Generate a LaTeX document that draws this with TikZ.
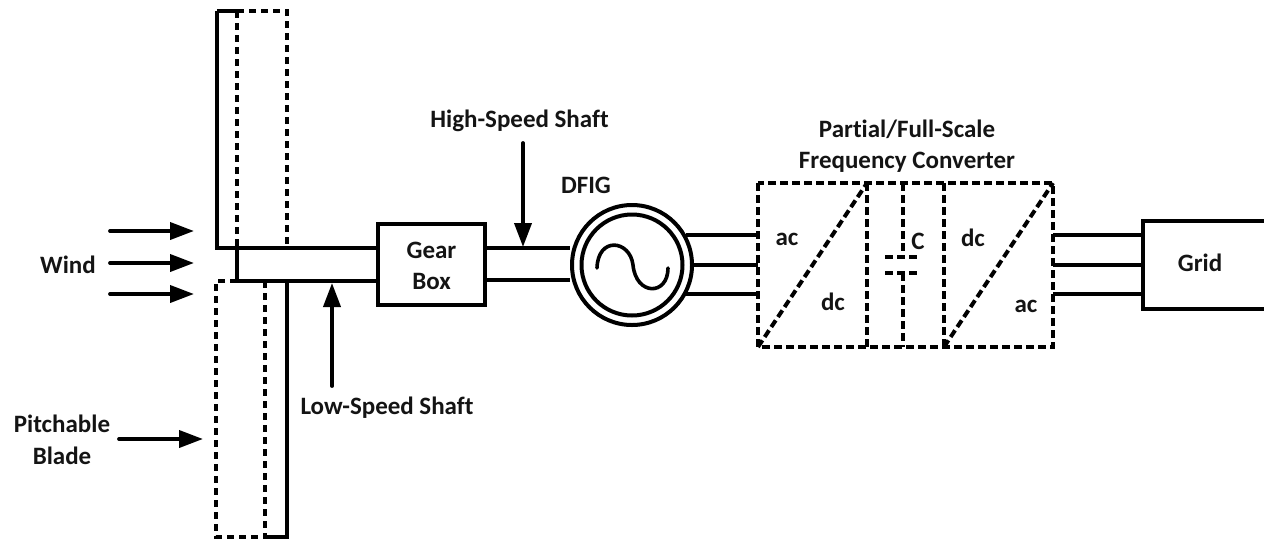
\documentclass[tikz,border=0pt]{standalone}
\usepackage{fontspec}
\setmainfont[Ligatures=NoCommon]{Carlito}
\usetikzlibrary{arrows.meta}
\tikzset{
  solidln/.style={line width=4pt,line cap=butt,line join=miter},
  dashln/.style={line width=4pt,dash pattern=on 8pt off 4pt},
  dotln/.style={line width=4pt,dash pattern=on 7pt off 5pt},
  arrowln/.style={line width=3.8pt,line cap=round,-{Triangle[length=24pt,width=17pt]}},
  lbl/.style={font=\fontsize{25}{31.5}\selectfont\bfseries,inner sep=0pt,align=center,text=black!92},
}
\begin{document}
\begin{tikzpicture}[x=1pt,y=-1pt]
\useasboundingbox (0,0) rectangle (1264,542);
% blade corners
\coordinate (ta) at (217,11);\coordinate (tb) at (237,11);\coordinate (tc) at (287,11);
\coordinate (td) at (217,248);\coordinate (te) at (237,248);\coordinate (tf) at (287,248);
\coordinate (ba) at (237,281);\coordinate (bb) at (216,281);\coordinate (bc) at (265,281);\coordinate (bd) at (287,281);
\coordinate (be) at (216,537);\coordinate (bf) at (265,537);\coordinate (bg) at (287,537);
% boxes
\node[draw,line width=4pt,minimum width=107pt,minimum height=81pt,inner sep=0pt] (gear) at (431.5,264.5) {};
\node[lbl] (gearlbl) at (431.5,266) {Gear\\Box};
\node[draw,circle,line width=4pt,minimum size=120pt,inner sep=0pt] (outer) at (632,265) {};
\node[draw,circle,line width=4pt,minimum size=101pt,inner sep=0pt] (inner) at (632,265) {};
\coordinate (gridTL) at (1264,221);\coordinate (gridL1) at (1143,221);\coordinate (gridL2) at (1143,309);\coordinate (gridBR) at (1264,309);
\draw[solidln] (gridTL) -- (gridL1) -- (gridL2) -- (gridBR);
\node[lbl] (gridt) at (1200,263) {Grid};
% shaft
\draw[solidln] (ta) -- (td) -- (gear.west |- td);
\draw[solidln] (te) -- (ba) -- (gear.west |- ba);
\draw[solidln] (ta) -- (tb);
\draw[dotln] (tb) -- (tc) -- (tf);
\draw[dotln] (tb) -- (te);
\draw[dotln] (ba) -- (bb) -- (be) -- (bf);
\draw[dotln] (bc) -- (bf);
\draw[solidln] (bd) -- (bg) -- (bf);
% high-speed shaft
\coordinate (hs1) at (570,248);\coordinate (hs2) at (570,280);
\draw[solidln] (gear.east |- hs1) -- (hs1);
\draw[solidln] (gear.east |- hs2) -- (hs2);
% sine
\draw[line width=3.6pt,line cap=round] (597,268) .. controls (598,236) and (630,240) .. (633,265) .. controls (636,296) and (668,296) .. (668,268);
% converter
\coordinate (c1) at (758,183);\coordinate (c2) at (867,183);\coordinate (c3) at (903,183);\coordinate (c4) at (944,183);\coordinate (c5) at (1053,183);
\coordinate (d1) at (758,347);\coordinate (d2) at (867,347);\coordinate (d3) at (903,347);\coordinate (d4) at (944,347);\coordinate (d5) at (1053,347);
\coordinate (p1) at (903,257);\coordinate (p2) at (903,273);
\coordinate (p1l) at (885,257);\coordinate (p1r) at (918,257);\coordinate (p2l) at (885,273);\coordinate (p2r) at (918,273);
\draw[dashln] (c1) rectangle (d5);
\draw[dashln] (c2) -- (d2);
\draw[dashln] (c4) -- (d4);
\draw[dashln] (d1) -- (c2);
\draw[dashln] (d4) -- (c5);
\draw[dashln] (c3) -- (p1);
\draw[dashln] (p2) -- (d3);
\draw[dashln] (p1l) -- (p1r);
\draw[dashln] (p2l) -- (p2r);
% power lines
\foreach \n/\y/\xa in {a/235/686,b/265/692,c/294/686}{
  \coordinate (g\n) at (\xa,\y);\coordinate (l\n) at (758,\y);
  \coordinate (r\n) at (1053,\y);\coordinate (s\n) at (1143,\y);
  \draw[solidln] (g\n) -- (l\n);
  \draw[solidln] (r\n) -- (s\n);
}
% arrows
\coordinate (w1a) at (110,231);\coordinate (w1b) at (194,231);
\coordinate (w2a) at (110,263);\coordinate (w2b) at (194,263);
\coordinate (w3a) at (110,294);\coordinate (w3b) at (194,294);
\draw[arrowln] (w1a) -- (w1b);
\draw[arrowln] (w2a) -- (w2b);
\draw[arrowln] (w3a) -- (w3b);
\coordinate (pa) at (119,439);\coordinate (pb) at (203,439);
\draw[arrowln] (pa) -- (pb);
\coordinate (la) at (332,386);\coordinate (lb) at (332,283);
\draw[arrowln] (la) -- (lb);
\coordinate (ha) at (523,143);\coordinate (hb) at (523,247);
\draw[arrowln] (ha) -- (hb);
% labels
\node[lbl] (wind) at (68,265) {Wind};
\node[lbl] (pitch) at (62,440) {Pitchable\\Blade};
\node[lbl] (low) at (387,408) {Low-Speed Shaft};
\node[lbl] (high) at (519.5,121) {High-Speed Shaft};
\node[lbl] (dfig) at (586,185) {DFIG};
\node[lbl] (conv) at (907,146) {Partial/Full-Scale\\Frequency Converter};
\node[lbl] (ac1) at (787,239) {ac};
\node[lbl] (dc1) at (833,302) {dc};
\node[lbl] (capc) at (918,241) {C};
\node[lbl] (dc2) at (973,238) {dc};
\node[lbl] (ac2) at (1026,306) {ac};
\end{tikzpicture}
\end{document}
